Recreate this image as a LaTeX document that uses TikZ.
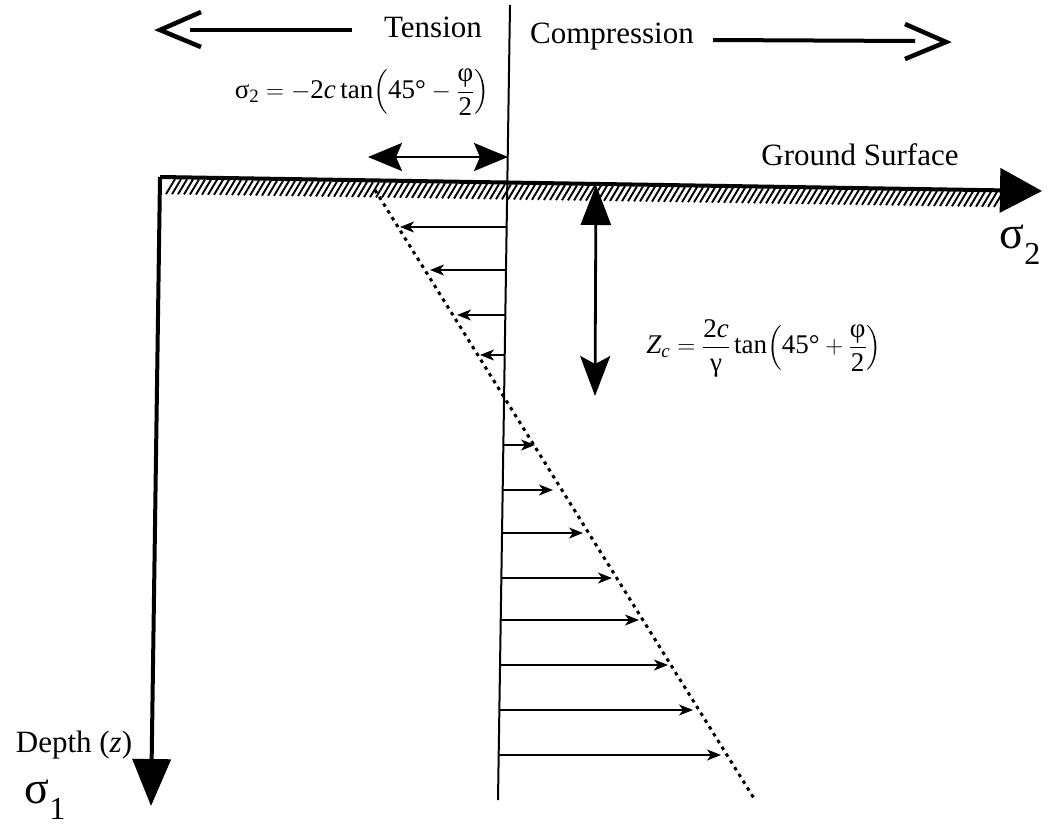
\documentclass[tikz,border=0pt]{standalone}
\usepackage{amsmath}
\usepackage{fontspec}
\setmainfont{Liberation Serif}
\usetikzlibrary{arrows.meta}
\tikzset{
  lbl/.style={inner sep=0pt, font=\fontsize{31}{34}\selectfont},
  formula/.style={inner sep=0pt, font=\fontsize{27}{30}\selectfont},
  thickline/.style={line width=4pt},
  tensarrow/.style={line width=1.6pt, -{Stealth[length=14pt,width=11pt,inset=4pt]}},
  comparrow/.style={line width=1.6pt, -{Stealth[length=14pt,width=11pt,inset=4pt]}},
  bigdouble/.style={line width=2.8pt, {Stealth[length=34pt,width=28pt,inset=6pt]}-{Stealth[length=34pt,width=28pt,inset=6pt]}},
  opentip/.style={line width=4.5pt, line join=miter, line cap=butt},
  dots/.style={line width=3pt, line cap=butt, dash pattern=on 3.5pt off 4.5pt},
  hatch/.style={line width=1.9pt}
}
\begin{document}
\begin{tikzpicture}[x=1pt,y=-1pt]
\useasboundingbox (0,0) rectangle (1052,825);
% coordinates
\coordinate (vtop) at (510,5);
\coordinate (vbot) at (498,800);
\coordinate (origin) at (160,177);
\coordinate (gend) at (1042,191);
\coordinate (dend) at (151,806);
\coordinate (dotA) at (375,190);
\coordinate (dotB) at (755,800);
% main vertical line
\draw[line width=2pt] (vtop) -- (vbot);
% top direction arrows
\coordinate (ltip) at (160,30);
\coordinate (lend) at (352,30);
\draw[thickline] (190,30) -- (lend);
\draw[opentip] (201,12) -- (ltip) -- (201,47);
\coordinate (rtip) at (946,42);
\coordinate (rstart) at (713,40);
\draw[thickline] (rstart) -- (915,41);
\draw[opentip] (905,24) -- (rtip) -- (905,59);
\node[lbl] (tension) at (433,27) {Tension};
\node[lbl] (compression) at (612,37) {Compression};
% hatching under ground
\foreach \x in {166,172,...,995}{
  \pgfmathsetmacro{\yt}{177+(\x-160)*0.0155}
  \draw[hatch] (\x,\yt+17) -- (\x+9,\yt+2);
}
% ground surface axis
\draw[thickline, -{Triangle[length=42pt,width=44pt]}] (origin) -- (gend);
% depth axis
\draw[thickline, -{Triangle[length=47pt,width=38pt]}] (origin) -- (dend);
% dotted stress line
\draw[dots] (dotA) -- (dotB);
% tension arrows
\foreach \y/\t in {227/400, 270/430, 315/457, 355/480}{
  \pgfmathsetmacro{\xs}{510-12*(\y-5)/795}
  \draw[tensarrow] (\xs,\y) -- (\t,\y);
}
% compression arrows
\foreach \y/\t in {445/535, 490/553, 533/583, 578/612, 620/639, 665/668, 710/693, 755/721}{
  \pgfmathsetmacro{\xs}{510-12*(\y-5)/795}
  \draw[comparrow] (\xs,\y) -- (\t,\y);
}
% sigma2 width arrow
\coordinate (wl) at (368,157);
\coordinate (wr) at (508,157);
\draw[bigdouble] (wl) -- (wr);
% Zc depth arrow
\coordinate (zt) at (596,185);
\coordinate (zb) at (595,396);
\draw[line width=2.8pt, {Triangle[length=40pt,width=30pt]}-{Stealth[length=40pt,width=30pt,inset=8pt]}] (zt) -- (zb);
% labels
\node[formula] (s2f) at (362,92) {$\displaystyle\text{σ}_{\text{2}} = -\text{2\textit{c}\,tan}\!\left(\text{45°}-\dfrac{\text{φ}}{\text{2}}\right)$};
\node[lbl] (ground) at (860,155) {Ground Surface};
\node[inner sep=0pt, font=\fontsize{46}{50}\selectfont] (s2) at (1020,245) {σ\raisebox{-0.35em}{\fontsize{32}{34}\selectfont 2}};
\node[formula] (zcf) at (764,348) {$\displaystyle\textit{Z}_{\textit{c}} = \dfrac{\text{2\textit{c}}}{\text{γ}}\,\text{tan}\!\left(\text{45°}+\dfrac{\text{φ}}{\text{2}}\right)$};
\node[lbl] (depth) at (74,745) {Depth (\textit{z})};
\node[inner sep=0pt, font=\fontsize{46}{50}\selectfont] (s1) at (45,800) {σ\raisebox{-0.35em}{\fontsize{32}{34}\selectfont 1}};
\end{tikzpicture}
\end{document}
